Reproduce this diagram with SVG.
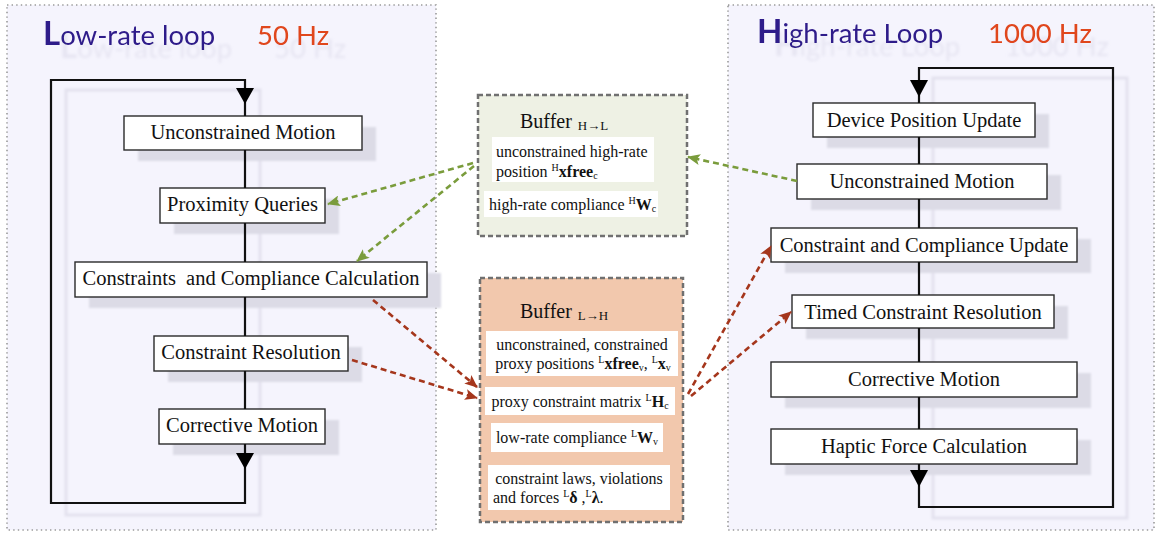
<svg xmlns="http://www.w3.org/2000/svg" width="1156" height="535" viewBox="0 0 1156 535">
<defs>
<style>
.panel{fill:#f5f4fd;stroke:#9a9a9a;stroke-width:1.6;stroke-dasharray:1.4 3.2}
.shadow{fill:#dcdbe6;filter:url(#blur1)}
.loopshadow{fill:none;stroke:#e3e2ee;stroke-width:3;filter:url(#blur1)}
.box{fill:#ffffff;stroke:#2a2a2a;stroke-width:1.4}
.lbl{font-family:"Liberation Serif","Times New Roman",serif;font-size:20.5px;fill:#111;text-anchor:middle}
.btxt{font-family:"Liberation Serif","Times New Roman",serif;font-size:16px;fill:#111}
.btitle{font-family:"Liberation Serif","Times New Roman",serif;font-size:20px;fill:#111}
.wbox{fill:#ffffff}
.buf{stroke:#707070;stroke-width:2.5;stroke-dasharray:5 3}
.loop{fill:none;stroke:#111;stroke-width:2.2}
.gdash{fill:none;stroke:#7a9c3c;stroke-width:2.6;stroke-dasharray:6 4}
.rdash{fill:none;stroke:#a5361c;stroke-width:2.6;stroke-dasharray:6 4}
.title{font-family:Lato,"Open Sans",sans-serif;font-size:27.5px;fill:#2f1a8a;filter:url(#tsh)}
.hz{font-family:Lato,"Open Sans",sans-serif;font-size:27.5px;fill:#e0461e;filter:url(#tsh)}
</style>
<filter id="blur1" x="-10%" y="-10%" width="120%" height="120%"><feGaussianBlur stdDeviation="1"/></filter>
<filter id="tsh" x="-10%" y="-50%" width="140%" height="220%">
<feOffset in="SourceAlpha" dx="17" dy="13" result="o"/>
<feGaussianBlur in="o" stdDeviation="1.6" result="b"/>
<feFlood flood-color="#cfcde0" flood-opacity="0.4"/>
<feComposite in2="b" operator="in" result="s"/>
<feMerge><feMergeNode in="s"/><feMergeNode in="SourceGraphic"/></feMerge>
</filter>
<marker id="ag" viewBox="0 0 13 11" refX="12" refY="5.5" markerWidth="13" markerHeight="11" orient="auto" markerUnits="userSpaceOnUse"><path d="M0,0 L13,5.5 L0,11 L3,5.5 z" fill="#7a9c3c"/></marker>
<marker id="ar" viewBox="0 0 13 11" refX="12" refY="5.5" markerWidth="13" markerHeight="11" orient="auto" markerUnits="userSpaceOnUse"><path d="M0,0 L13,5.5 L0,11 L3,5.5 z" fill="#a5361c"/></marker>
</defs>

<!-- panels -->
<g id="low-rate-panel">
<rect class="panel" x="7" y="5" width="429" height="525"/>
<text class="title" x="43" y="45"><tspan font-size="33" font-weight="bold">L</tspan>ow-rate loop</text>
<text class="hz" x="257" y="45">50 Hz</text>
<rect class="loopshadow" x="66" y="90" width="194" height="425"/>
</g>
<g id="high-rate-panel">
<rect class="panel" x="728" y="5" width="426" height="525"/>
<text class="title" x="757" y="43"><tspan font-size="33" font-weight="bold">H</tspan>igh-rate Loop</text>
<text class="hz" x="988" y="43">1000 Hz</text>
<rect class="loopshadow" x="933" y="78" width="194" height="440"/>
</g>

<!-- low-rate nodes -->
<g id="low-unconstrained-motion">
<rect class="shadow" x="138" y="127" width="238" height="34"/>
<rect class="box" x="124" y="116" width="238" height="34"/>
<text class="lbl" x="243" y="139">Unconstrained Motion</text>
</g>
<g id="low-proximity-queries">
<rect class="shadow" x="174" y="199" width="165" height="35"/>
<rect class="box" x="160" y="188" width="165" height="35"/>
<text class="lbl" x="242.5" y="211">Proximity Queries</text>
</g>
<g id="low-constraints-compliance">
<rect class="shadow" x="89" y="273" width="352" height="35"/>
<rect class="box" x="75" y="262" width="352" height="35"/>
<text class="lbl" x="251" y="285" xml:space="preserve">Constraints  and Compliance Calculation</text>
</g>
<g id="low-constraint-resolution">
<rect class="shadow" x="168" y="347" width="194" height="35"/>
<rect class="box" x="154" y="336" width="194" height="35"/>
<text class="lbl" x="251" y="359">Constraint Resolution</text>
</g>
<g id="low-corrective-motion">
<rect class="shadow" x="173" y="420" width="166" height="35"/>
<rect class="box" x="159" y="409" width="166" height="35"/>
<text class="lbl" x="242" y="432">Corrective Motion</text>
</g>

<!-- high-rate nodes -->
<g id="high-device-position">
<rect class="shadow" x="827" y="114" width="222" height="34"/>
<rect class="box" x="813" y="103" width="222" height="34"/>
<text class="lbl" x="924" y="127">Device Position Update</text>
</g>
<g id="high-unconstrained-motion">
<rect class="shadow" x="811" y="175" width="250" height="35"/>
<rect class="box" x="797" y="164" width="250" height="35"/>
<text class="lbl" x="922" y="188">Unconstrained Motion</text>
</g>
<g id="high-constraint-compliance">
<rect class="shadow" x="785" y="239" width="306" height="34"/>
<rect class="box" x="771" y="228" width="306" height="34"/>
<text class="lbl" x="924" y="252">Constraint and Compliance Update</text>
</g>
<g id="high-timed-resolution">
<rect class="shadow" x="806" y="306" width="262" height="33"/>
<rect class="box" x="792" y="295" width="262" height="33"/>
<text class="lbl" x="923" y="319">Timed Constraint Resolution</text>
</g>
<g id="high-corrective-motion">
<rect class="shadow" x="785" y="373" width="306" height="35"/>
<rect class="box" x="771" y="362" width="306" height="35"/>
<text class="lbl" x="924" y="386">Corrective Motion</text>
</g>
<g id="high-haptic-force">
<rect class="shadow" x="785" y="440" width="306" height="35"/>
<rect class="box" x="771" y="429" width="306" height="35"/>
<text class="lbl" x="924" y="453">Haptic Force Calculation</text>
</g>

<!-- buffers -->
<g id="buffer-h-to-l">
<rect class="buf" x="478" y="95" width="209" height="141" fill="#eef1e4"/>
<text class="btitle" x="520" y="128">Buffer<tspan font-size="13" dx="6" dy="2">H→L</tspan></text>
<rect class="wbox" x="492" y="137" width="162" height="45"/>
<text class="btxt" x="496" y="157">unconstrained high-rate</text>
<text class="btxt" x="496" y="177">position <tspan font-size="10" dy="-6">H</tspan><tspan font-weight="bold" dy="6">xfree</tspan><tspan font-size="10" dy="2">c</tspan></text>
<rect class="wbox" x="484" y="191" width="174" height="26"/>
<text class="btxt" x="489" y="210">high-rate compliance <tspan font-size="10" dy="-6">H</tspan><tspan font-weight="bold" dy="6">W</tspan><tspan font-size="10" dy="2">c</tspan></text>
</g>
<g id="buffer-l-to-h">
<rect class="buf" x="480" y="278" width="203" height="244" fill="#f2c8ad"/>
<text class="btitle" x="520" y="318">Buffer<tspan font-size="13" dx="6" dy="2">L→H</tspan></text>
<rect class="wbox" x="486" y="331" width="192" height="45"/>
<text class="btxt" x="582" y="350" text-anchor="middle">unconstrained, constrained</text>
<text class="btxt" x="583" y="369" text-anchor="middle">proxy positions <tspan font-size="10" dy="-6">L</tspan><tspan font-weight="bold" dy="6">xfree</tspan><tspan font-size="10" dy="2">v</tspan><tspan dy="-2">, </tspan><tspan font-size="10" dy="-6">L</tspan><tspan font-weight="bold" dy="6">x</tspan><tspan font-size="10" dy="2">v</tspan></text>
<rect class="wbox" x="485" y="387" width="190" height="28"/>
<text class="btxt" x="580" y="407" text-anchor="middle">proxy constraint matrix <tspan font-size="10" dy="-6">L</tspan><tspan font-weight="bold" dy="6">H</tspan><tspan font-size="10" dy="2">c</tspan></text>
<rect class="wbox" x="491" y="423" width="172" height="29"/>
<text class="btxt" x="577" y="443" text-anchor="middle">low-rate compliance <tspan font-size="10" dy="-6">L</tspan><tspan font-weight="bold" dy="6">W</tspan><tspan font-size="10" dy="2">v</tspan></text>
<rect class="wbox" x="488" y="465" width="182" height="45"/>
<text class="btxt" x="579" y="484" text-anchor="middle">constraint laws, violations</text>
<text class="btxt" x="493" y="503">and forces <tspan font-size="10" dy="-6">L</tspan><tspan font-weight="bold" dy="6">δ</tspan><tspan> ,</tspan><tspan font-size="10" dy="-6">L</tspan><tspan font-weight="bold" dy="6">λ</tspan>.</text>
</g>

<!-- connectors -->
<g id="connectors">
<path class="loop" d="M245,103 L245,80 L51,80 L51,503 L245,503 L245,444"/>
<path class="loop" d="M245,103 L245,116 M245,150 L245,188 M245,223 L245,262 M245,297 L245,336 M245,371 L245,409"/>
<polygon points="236,88 254,88 245,104" fill="#000"/>
<polygon points="236,453 254,453 245,469" fill="#000"/>
<path class="loop" d="M919,103 L919,68 L1113,68 L1113,507 L919,507 L919,464"/>
<path class="loop" d="M919,137 L919,164 M919,199 L919,228 M919,262 L919,295 M919,328 L919,362 M919,397 L919,429"/>
<polygon points="910,80 928,80 919,97" fill="#000"/>
<polygon points="910,470 928,470 919,487" fill="#000"/>
<path class="gdash" d="M473,163 L328,204" marker-end="url(#ag)"/>
<path class="gdash" d="M474,166 L357,261" marker-end="url(#ag)"/>
<path class="gdash" d="M797,181 L688,157" marker-end="url(#ag)"/>
<path class="rdash" d="M373,300 L477,387" marker-end="url(#ar)"/>
<path class="rdash" d="M352,360 L477,398" marker-end="url(#ar)"/>
<path class="rdash" d="M688,394 L771,246" marker-end="url(#ar)"/>
<path class="rdash" d="M691,396 L791,312" marker-end="url(#ar)"/>
</g>
</svg>
